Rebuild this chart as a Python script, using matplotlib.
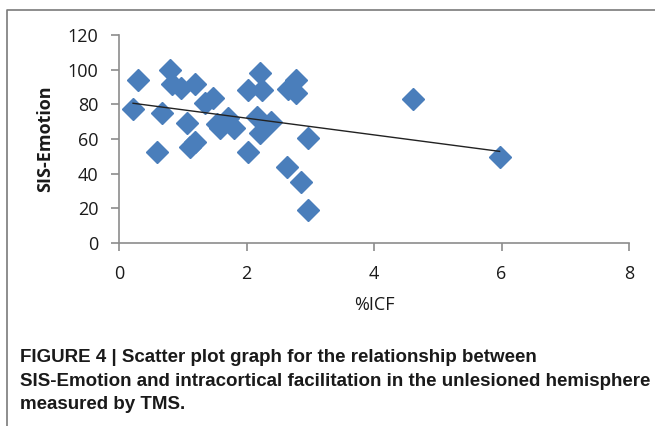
import matplotlib
matplotlib.use("Agg")
import matplotlib.pyplot as plt
from matplotlib.lines import Line2D
import numpy as np

# values
icf = [0.22, 0.30, 0.59, 0.67, 0.80, 0.83, 0.98, 1.07, 1.12, 1.19,
       1.19, 1.35, 1.48, 1.53, 1.58, 1.71, 1.80, 2.03, 2.03, 2.17,
       2.21, 2.24, 2.21, 2.39, 2.63, 2.65, 2.78, 2.78, 2.86, 2.97,
       2.97, 4.61, 5.97]
sis = [77.5, 94, 52.7, 75, 100, 92, 89.3, 69.4, 55.6, 58.5,
       92, 80.6, 83.5, 68.5, 66.5, 72, 66.2, 88.3, 52.7, 72.5,
       97.9, 88.5, 63.3, 69.7, 44, 88.7, 94, 86.5, 35.4, 60.5,
       19.2, 83, 49.6]
xticks = [0, 2, 4, 6, 8]
yticks = [0, 20, 40, 60, 80, 100, 120]

caption = ("FIGURE 4 | Scatter plot graph for the relationship between\n"
           "SIS-Emotion and intracortical facilitation in the unlesioned hemisphere\n"
           "measured by TMS.")

fig = plt.figure(figsize=(6.55, 4.26), dpi=100)
ax = fig.add_axes([119/655, 1-243/426, 510/655, 208/426])

ax.plot(icf, sis, 'D', color='#4a7ebb', ms=11, mec='#4a7ebb', ls='none', zorder=3)

# linear trendline across the data range
x = np.array(icf)
m, b = np.polyfit(x, sis, 1)
xs = np.array([x.min(), x.max()])
ax.plot(xs, m*xs + b, color='#222222', lw=1, zorder=4)

ax.set_xlim(0, 8)
ax.set_ylim(0, 120)
ax.set_xticks(xticks)
ax.set_yticks(yticks)

for s in ['top', 'right']:
    ax.spines[s].set_visible(False)
for s in ['left', 'bottom']:
    ax.spines[s].set_color('#8c8c8c')
    ax.spines[s].set_linewidth(1.2)
ax.tick_params(colors='#8c8c8c', length=6, width=1.2, labelcolor='#1a1a1a',
               labelsize=13)
ax.tick_params(axis='y', pad=9)
ax.tick_params(axis='x', pad=10)
for lab in ax.get_xticklabels() + ax.get_yticklabels():
    lab.set_family('Open Sans')

ax.set_xlabel('%ICF', fontsize=13, family='Open Sans', color='#1a1a1a')
ax.set_ylabel('SIS-Emotion', fontsize=13, family='Open Sans', fontweight='bold',
              color='#1a1a1a')
ax.xaxis.set_label_coords(0.5, -0.255)
ax.yaxis.set_label_coords(-0.128, 0.5)

# frame lines of the figure panel
fig.add_artist(Line2D([7/655, 7/655, 1], [0, 1-10/426, 1-10/426],
                      transform=fig.transFigure, color='#7a7a7a', lw=1.2))

fig.text(20/655, 1-381/426, caption, ha='left', va='center',
         family='Liberation Sans', fontweight='bold', fontsize=13.5,
         linespacing=1.47, color='#1a1a1a')

fig.savefig('out.png', dpi=100)
